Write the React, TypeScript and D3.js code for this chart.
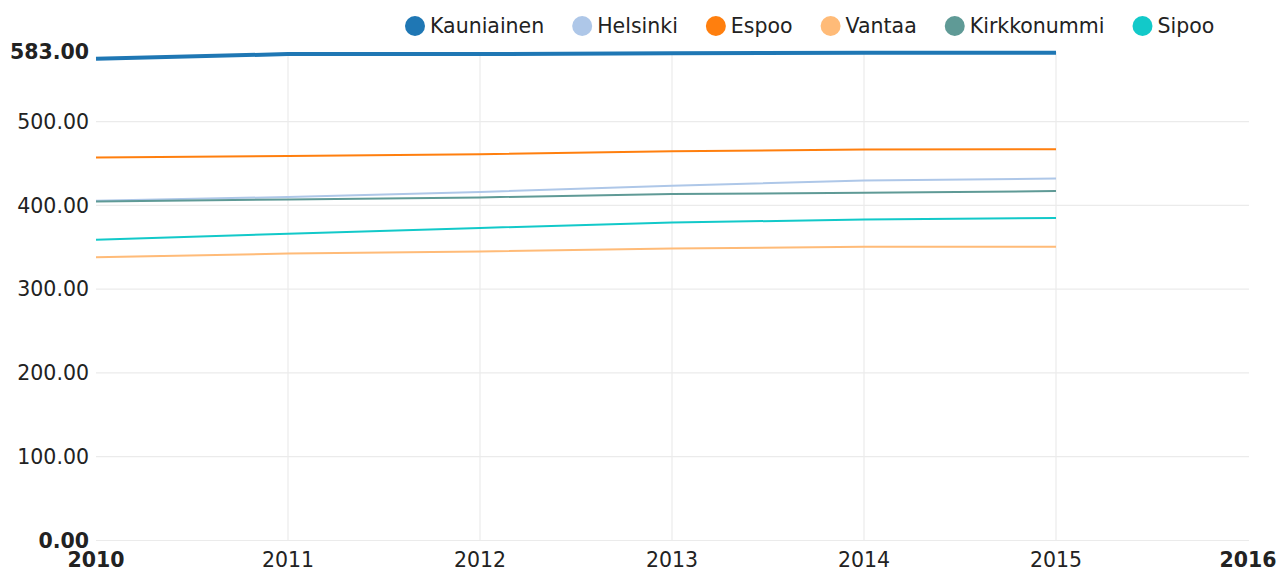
import React, { useEffect, useRef, useState } from 'react';
import * as d3 from 'd3';

// data
const years = [2010, 2011, 2012, 2013, 2014, 2015];
const kauniainen = [575, 580.5, 580.5, 581.5, 582, 582];
const helsinki = [405.5, 410, 416, 423.5, 429.5, 432];
const espoo = [457, 459, 461, 464.5, 466.5, 467];
const vantaa = [338, 342.5, 345, 348.5, 350.5, 350.5];
const kirkkonummi = [404.5, 407, 409.5, 413.5, 415, 417];
const sipoo = [359, 366, 373, 379.5, 383, 385];

const seriesNames = ['Kauniainen', 'Helsinki', 'Espoo', 'Vantaa', 'Kirkkonummi', 'Sipoo'];
const seriesValues = [kauniainen, helsinki, espoo, vantaa, kirkkonummi, sipoo];
const seriesColors = ['#1f77b4', '#aec7e8', '#ff7f0e', '#ffbb78', '#5f9a96', '#12c9c9'];

const yTicks = [0, 100, 200, 300, 400, 500];
const xTicks = [2010, 2011, 2012, 2013, 2014, 2015, 2016];
const yMax = 583;

const W = 1279;
const H = 571;
const FONT = '"DejaVu Sans", sans-serif';
const FS = 20.5;

const App: React.FC = () => {
  const legendRef = useRef<SVGGElement>(null);
  const [legendX, setLegendX] = useState<number[]>(seriesNames.map((_, i) => 415 + i * 150));

  useEffect(() => {
    document.body.style.margin = '0';
    if (!legendRef.current) return;
    // lay the legend out from the measured label widths
    const texts = d3.select(legendRef.current).selectAll<SVGTextElement, unknown>('text').nodes();
    const xs: number[] = [];
    let cx = 415;
    texts.forEach((t) => {
      xs.push(cx);
      cx = cx + 15 + t.getComputedTextLength() + 38;
    });
    setLegendX(xs);
  }, []);

  const x = d3.scaleLinear().domain([2010, 2016]).range([96, 1248]);
  const y = d3.scaleLinear().domain([0, yMax]).range([540.5, 52]);

  const line = d3.line<number>()
    .x((_, i) => x(years[i]))
    .y(d => y(d));

  const xEnd = 1249;

  return (
    <svg width={W} height={H} style={{ display: 'block', fontFamily: FONT }}>
      {/* grid */}
      <g>
        {yTicks.map(t => (
          <line key={'gy' + t} x1={x(2010)} x2={xEnd} y1={y(t)} y2={y(t)} stroke="#ebebeb" strokeWidth={1.2} />
        ))}
        {years.slice(1).map(t => (
          <line key={'gx' + t} x1={x(t)} x2={x(t)} y1={y(yMax)} y2={y(0)} stroke="#ebebeb" strokeWidth={1.2} />
        ))}
      </g>

      {/* y labels */}
      <g>
        {yTicks.map(t => (
          <text key={'yl' + t} x={89} y={y(t)} dy="0.35em" textAnchor="end" fontSize={FS}
            fill="#222" fontWeight={t === 0 ? 'bold' : 'normal'}>{t.toFixed(2)}</text>
        ))}
        <text x={89} y={y(yMax)} dy="0.35em" textAnchor="end" fontSize={FS} fill="#222" fontWeight="bold">
          {yMax.toFixed(2)}
        </text>
      </g>

      {/* x labels */}
      <g>
        {xTicks.map((t, i) => (
          <text key={'xl' + t} x={x(t)} y={567} textAnchor="middle" fontSize={FS} fill="#222"
            fontWeight={i === 0 || i === xTicks.length - 1 ? 'bold' : 'normal'}>{t}</text>
        ))}
      </g>

      {/* lines */}
      <g>
        {seriesValues.map((vals, i) => (
          <path key={seriesNames[i]} d={line(vals) || ''} fill="none" stroke={seriesColors[i]}
            strokeWidth={i === 0 ? 4 : 2} />
        ))}
      </g>

      {/* legend */}
      <g ref={legendRef}>
        {seriesNames.map((name, i) => (
          <g key={'lg' + name}>
            <circle cx={legendX[i]} cy={26} r={10} fill={seriesColors[i]} />
            <text x={legendX[i] + 15} y={33} fontSize={FS} fill="#222">{name}</text>
          </g>
        ))}
      </g>
    </svg>
  );
};

export default App;
